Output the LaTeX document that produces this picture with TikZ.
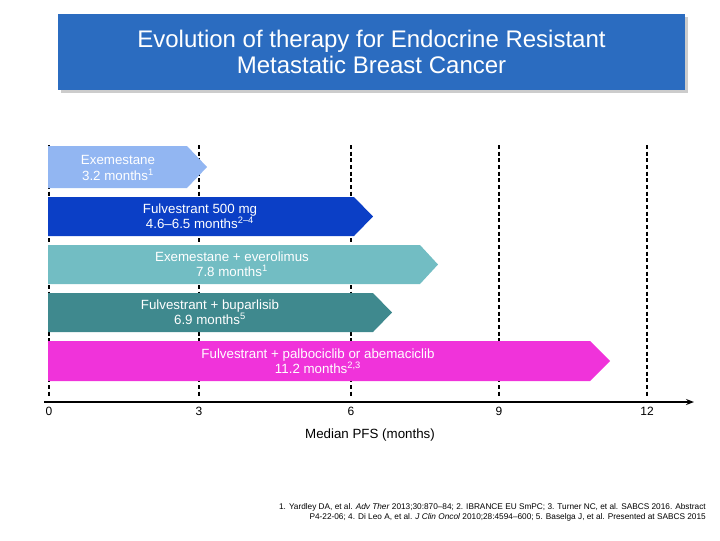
\documentclass[tikz,border=0pt]{standalone}
\usepackage{fontspec}
\setmainfont{Liberation Sans}
\usetikzlibrary{arrows.meta}
\definecolor{tb}{HTML}{2B6CC0}
\definecolor{c1}{HTML}{92B6F2}
\definecolor{c2}{HTML}{0B3FC6}
\definecolor{c3}{HTML}{72BDC3}
\definecolor{c4}{HTML}{3F898E}
\definecolor{c5}{HTML}{F033DA}
\begin{document}
\begin{tikzpicture}[x=0.75pt,y=-0.75pt,
  lbl/.style={text=white,font=\fontsize{10}{11.5}\selectfont,align=center,inner sep=0pt},
  grid/.style={black,line width=1.6pt,dash pattern=on 3pt off 2pt},
  tick/.style={font=\fontsize{9}{10}\selectfont,inner sep=0pt}]
\useasboundingbox (0,0) rectangle (720,540);
\fill[gray!40] (61,17) rectangle (688,93);
\node[fill=tb,minimum width=470.25pt,minimum height=57pt,inner sep=0pt,text=white,
  font=\fontsize{18}{20}\selectfont,align=center] (title) at (371.5,52)
  {Evolution of therapy for Endocrine Resistant\\Metastatic Breast Cancer};
\foreach \x in {49,199,351,499,647} \draw[grid] (\x,145) -- (\x,398);
\fill[c1] (48,146) -- (187,146) -- (207,167) -- (187,188) -- (48,188) -- cycle;
\fill[c2] (48,197) -- (354,197) -- (373,216.5) -- (354,236) -- (48,236) -- cycle;
\fill[c3] (48,245) -- (420,245) -- (438,264.5) -- (420,284) -- (48,284) -- cycle;
\fill[c4] (48,293) -- (373,293) -- (392,312.5) -- (373,332) -- (48,332) -- cycle;
\fill[c5] (48,341) -- (590,341) -- (610,361) -- (590,381) -- (48,381) -- cycle;
\node[lbl] (b1) at (118,168) {Exemestane\\3.2 months\textsuperscript{1}};
\node[lbl] (b2) at (200,216) {Fulvestrant 500 mg\\4.6--6.5 months\textsuperscript{2--4}};
\node[lbl] (b3) at (232,264) {Exemestane + everolimus\\7.8 months\textsuperscript{1}};
\node[lbl] (b4) at (210,312) {Fulvestrant + buparlisib\\6.9 months\textsuperscript{5}};
\node[lbl] (b5) at (318,361) {Fulvestrant + palbociclib or abemaciclib\\11.2 months\textsuperscript{2,3}};
\coordinate (a0) at (44,402); \coordinate (a1) at (694,402);
\draw[line width=1pt,-{Stealth[length=6pt]}] (a0) -- (a1);
\foreach \x/\t in {49/0,199/3,351/6,499/9,647/12} \node[tick] (t\t) at (\x,411) {\t};
\node[font=\fontsize{10}{11}\selectfont] (xl) at (370,435) {Median PFS (months)};
\node[font=\fontsize{6.2}{7.5}\selectfont,align=right,inner sep=0pt,anchor=north east] (ref) at (706,503)
 {1. Yardley DA, et al. \textit{Adv Ther} 2013;30:870--84; 2. IBRANCE EU SmPC; 3. Turner NC, et al. SABCS 2016. Abstract\\
 P4-22-06; 4. Di Leo A, et al. \textit{J Clin Oncol} 2010;28:4594--600; 5. Baselga J, et al. Presented at SABCS 2015};
\end{tikzpicture}
\end{document}
